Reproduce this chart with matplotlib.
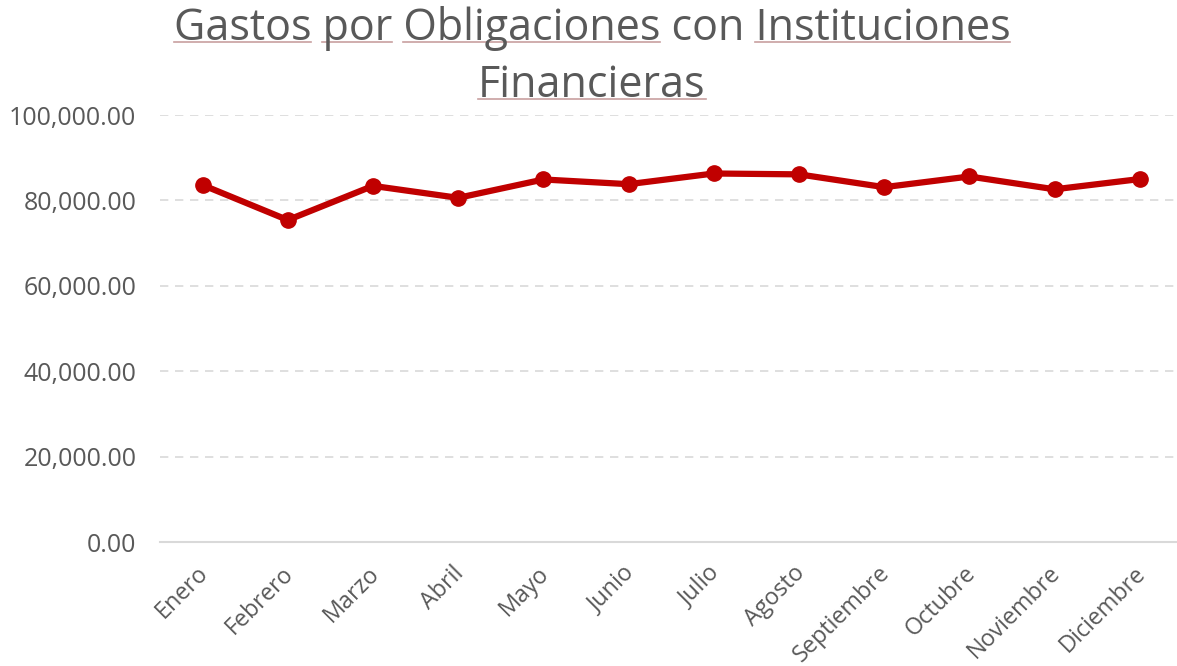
import matplotlib
matplotlib.use("Agg")
import matplotlib.pyplot as plt
import matplotlib.transforms as mtransforms
from matplotlib.ticker import FuncFormatter, MultipleLocator
from matplotlib.lines import Line2D

months = ["Enero", "Febrero", "Marzo", "Abril", "Mayo", "Junio", "Julio",
          "Agosto", "Septiembre", "Octubre", "Noviembre", "Diciembre"]
gastos = [83600, 75400, 83400, 80600, 84900, 83800, 86300,
          86100, 83100, 85600, 82600, 85000]
title_lines = ["Gastos por Obligaciones con Instituciones", "Financieras"]
underlined = {"Gastos", "por", "Obligaciones", "Instituciones", "Financieras"}

FONT = "Open Sans"
GRAY = "#595959"
RED = "#C00000"

W, H = 1177, 666
fig = plt.figure(figsize=(W / 100, H / 100), dpi=100)
ax = fig.add_axes([160 / W, (H - 542) / H, (W - 160) / W, 427 / H])

x = list(range(len(months)))
ax.plot(x, gastos, color=RED, lw=4.5, marker="o", ms=11, zorder=3,
        solid_joinstyle="round")

ax.set_ylim(0, 100000)
ax.set_xlim(-0.5, (W - 160) / 85.2 - 0.5)
ax.yaxis.set_major_locator(MultipleLocator(20000))
ax.yaxis.set_major_formatter(FuncFormatter(lambda v, p: f"{v:,.2f}"))
ax.grid(axis="y", color="#D9D9D9", ls=(0, (5, 4)), lw=1.2)
ax.set_axisbelow(True)
for s in ["top", "right", "left"]:
    ax.spines[s].set_visible(False)
ax.spines["bottom"].set_color("#D9D9D9")
ax.spines["bottom"].set_linewidth(1.5)
ax.tick_params(axis="both", length=0, colors=GRAY)
ax.tick_params(axis="y", pad=17)
ax.tick_params(axis="x", pad=14)
ax.set_xticks(x)
ax.set_xticklabels(months, rotation=45, ha="right", va="top",
                   rotation_mode="anchor", fontsize=16.8, family=FONT, color=GRAY)
offset = mtransforms.ScaledTranslation(-6 / 100, 0, fig.dpi_scale_trans)
for lab in ax.get_xticklabels():
    lab.set_transform(lab.get_transform() + offset)
for lab in ax.get_yticklabels():
    lab.set_fontsize(18)
    lab.set_family(FONT)
    lab.set_color(GRAY)

# title
cx = 592 / W
baselines = [40, 97]
texts = []
for line, by in zip(title_lines, baselines):
    t = fig.text(cx, 1 - by / H, line, ha="center", va="baseline",
                 fontsize=31, family=FONT, color=GRAY)
    texts.append((t, line, by))

fig.canvas.draw()
renderer = fig.canvas.get_renderer()
for t, line, by in texts:
    bb = t.get_window_extent(renderer)
    prop = t.get_fontproperties()
    words = line.split(" ")
    pos = 0
    for w in words:
        prefix = line[:pos]
        x0 = bb.x0 + (renderer.get_text_width_height_descent(prefix, prop, ismath=False)[0] if prefix else 0)
        x1 = bb.x0 + renderer.get_text_width_height_descent(line[:pos + len(w)], prop, ismath=False)[0]
        if w in underlined:
            yy = (H - by - 2) / H
            fig.add_artist(Line2D([x0 / W, x1 / W], [yy, yy], transform=fig.transFigure,
                                  color="#C8A0A0", lw=1.2))
        pos += len(w) + 1

fig.savefig("out.png", dpi=100)
